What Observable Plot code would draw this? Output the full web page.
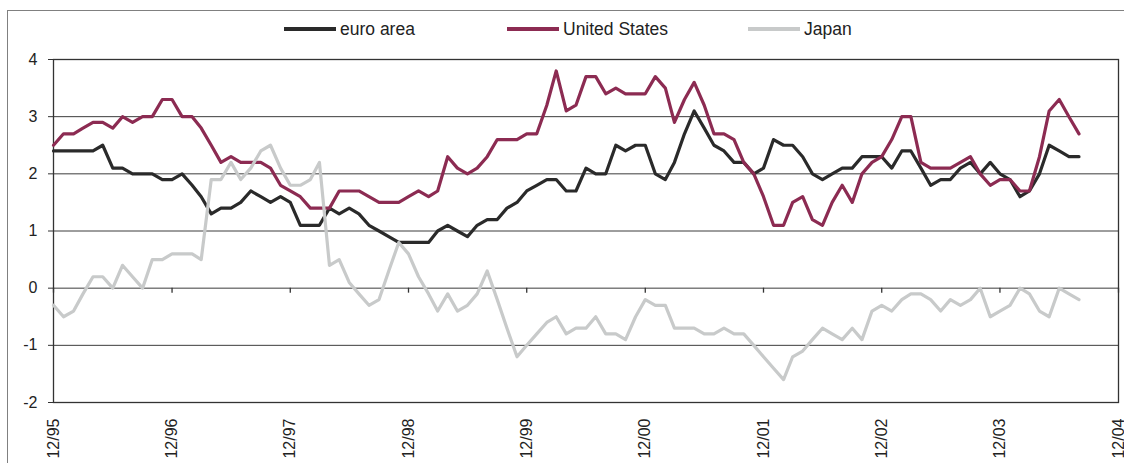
<!DOCTYPE html>
<html>
<head>
<meta charset="utf-8">
<script src="https://cdn.jsdelivr.net/npm/d3@7"></script>
<script src="https://cdn.jsdelivr.net/npm/@observablehq/plot@0.6"></script>
<style>
  body { margin: 0; background: #fff; }
  #wrap { position: relative; width: 1124px; height: 463px; overflow: hidden; font-family: "Liberation Sans", Arial, sans-serif; }
  #border { position: absolute; left: 7px; top: 10px; width: 2000px; height: 1000px; border-left: 1px solid #808080; border-top: 1px solid #808080; }
  #chart { position: absolute; left: 0; top: 0; }
  #chart svg { display: block; }
  .leg { position: absolute; top: 19px; height: 20px; display: flex; align-items: center; font-size: 17.5px; color: #222; white-space: nowrap; }
  .sw { width: 52px; height: 4px; margin-right: 4px; }
</style>
</head>
<body>
<div id="wrap">
  <div id="border"></div>
  <div id="chart"></div>
</div>
<script>
// Tick labels (months shown on the x axis)
const tickLabels = ["12/95","12/96","12/97","12/98","12/99","12/00","12/01","12/02","12/03","12/04"];
const yTicks = [-2, -1, 0, 1, 2, 3, 4];

// Series names and colours
const seriesNames = ["euro area", "United States", "Japan"];
const seriesColors = ["#2a2a2a", "#8c2b52", "#c8caca"];
const legendLeft = [284, 507, 748];

// Monthly values, starting 12/95
const euroArea = [2.4,2.4,2.4,2.4,2.4,2.5,2.1,2.1,2.0,2.0,2.0,1.9,1.9,2.0,1.8,1.6,1.3,1.4,1.4,1.5,1.7,1.6,1.5,1.6,1.5,1.1,1.1,1.1,
  1.4,1.3,1.4,1.3,1.1,1.0,0.9,0.8,0.8,0.8,0.8,1.0,1.1,1.0,0.9,1.1,1.2,1.2,1.4,1.5,1.7,1.8,1.9,1.9,1.7,1.7,
  2.1,2.0,2.0,2.5,2.4,2.5,2.5,2.0,1.9,2.2,2.7,3.1,2.8,2.5,2.4,2.2,2.2,2.0,2.1,2.6,2.5,2.5,2.3,2.0,1.9,2.0,
  2.1,2.1,2.3,2.3,2.3,2.1,2.4,2.4,2.1,1.8,1.9,1.9,2.1,2.2,2.0,2.2,2.0,1.9,1.6,1.7,2.0,2.5,2.4,2.3,2.3];
const unitedStates = [2.5,2.7,2.7,2.8,2.9,2.9,2.8,3.0,2.9,3.0,3.0,3.3,3.3,3.0,3.0,2.8,2.5,2.2,2.3,2.2,2.2,2.2,2.1,1.8,1.7,1.6,1.4,1.4,
  1.4,1.7,1.7,1.7,1.6,1.5,1.5,1.5,1.6,1.7,1.6,1.7,2.3,2.1,2.0,2.1,2.3,2.6,2.6,2.6,2.7,2.7,3.2,3.8,3.1,3.2,
  3.7,3.7,3.4,3.5,3.4,3.4,3.4,3.7,3.5,2.9,3.3,3.6,3.2,2.7,2.7,2.6,2.2,2.0,1.6,1.1,1.1,1.5,1.6,1.2,1.1,1.5,
  1.8,1.5,2.0,2.2,2.3,2.6,3.0,3.0,2.2,2.1,2.1,2.1,2.2,2.3,2.0,1.8,1.9,1.9,1.7,1.7,2.3,3.1,3.3,3.0,2.7];
const japan = [-0.3,-0.5,-0.4,-0.1,0.2,0.2,0.0,0.4,0.2,0.0,0.5,0.5,0.6,0.6,0.6,0.5,1.9,1.9,2.2,1.9,2.1,2.4,2.5,2.1,1.8,1.8,1.9,2.2,
  0.4,0.5,0.1,-0.1,-0.3,-0.2,0.3,0.8,0.6,0.2,-0.1,-0.4,-0.1,-0.4,-0.3,-0.1,0.3,-0.2,-0.7,-1.2,-1.0,-0.8,-0.6,-0.5,-0.8,-0.7,
  -0.7,-0.5,-0.8,-0.8,-0.9,-0.5,-0.2,-0.3,-0.3,-0.7,-0.7,-0.7,-0.8,-0.8,-0.7,-0.8,-0.8,-1.0,-1.2,-1.4,-1.6,-1.2,-1.1,-0.9,-0.7,-0.8,
  -0.9,-0.7,-0.9,-0.4,-0.3,-0.4,-0.2,-0.1,-0.1,-0.2,-0.4,-0.2,-0.3,-0.2,0.0,-0.5,-0.4,-0.3,0.0,-0.1,-0.4,-0.5,0.0,-0.1,-0.2];

const parse = d3.utcParse("%m/%y");
const fmt = d3.utcFormat("%m/%y");
const tickDates = tickLabels.map(parse);
const start = tickDates[0];
const monthDate = (i) => new Date(Date.UTC(start.getUTCFullYear(), start.getUTCMonth() + i, 1));

const allSeries = [euroArea, unitedStates, japan];
const rows = [];
allSeries.forEach((vals, s) => vals.forEach((v, i) => rows.push({date: monthDate(i), value: v, series: seriesNames[s]})));

const plot = Plot.plot({
  width: 1124,
  height: 463,
  marginLeft: 53,
  marginRight: 6,
  marginTop: 59,
  marginBottom: 61,
  style: {background: "transparent", fontFamily: "'Liberation Sans', Arial, sans-serif", fontSize: "16px", color: "#222", overflow: "visible"},
  x: {type: "utc", domain: [tickDates[0], tickDates[tickDates.length - 1]], label: null},
  y: {domain: [-2, 4], label: null},
  color: {domain: seriesNames, range: seriesColors},
  marks: [
    Plot.ruleY(yTicks, {stroke: "#3c3c3c", strokeWidth: 1}),
    Plot.frame({stroke: "#333", strokeWidth: 1.3}),
    Plot.ruleX(tickDates, {x: d => d, y1: 0, y2: 0, insetBottom: -5, stroke: "#333", strokeWidth: 1.3}),
    Plot.axisY(yTicks, {tickSize: 5, tickPadding: 11, stroke: "#333", fill: "#222", label: null, tickFormat: d => d < 0 ? "-" + Math.abs(d) : String(d)}),
    Plot.axisX(tickDates, {tickSize: 0, tickPadding: 16, tickRotate: -90, tickFormat: fmt, fill: "#222", label: null}),
    Plot.lineY(rows, {x: "date", y: "value", z: "series", stroke: "series", strokeWidth: 3.2, strokeLinejoin: "round"})
  ]
});
document.getElementById("chart").appendChild(plot);

// Legend
const wrap = document.getElementById("wrap");
seriesNames.forEach((name, i) => {
  const item = document.createElement("div");
  item.className = "leg";
  item.style.left = legendLeft[i] + "px";
  const sw = document.createElement("div");
  sw.className = "sw";
  sw.style.background = seriesColors[i];
  const t = document.createElement("span");
  t.textContent = name;
  item.appendChild(sw);
  item.appendChild(t);
  wrap.appendChild(item);
});
</script>
</body>
</html>
